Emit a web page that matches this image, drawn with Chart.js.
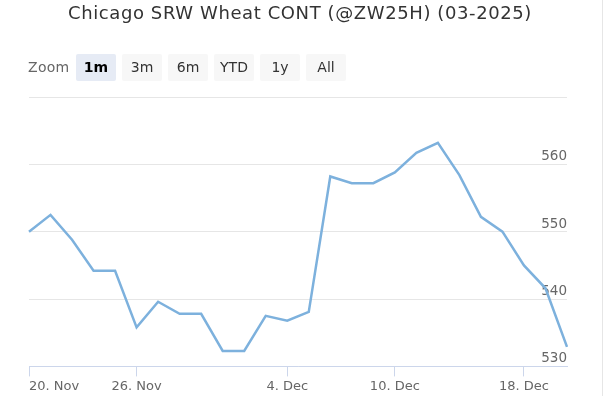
<!DOCTYPE html>
<html>
<head>
<meta charset="utf-8">
<script src="https://cdn.jsdelivr.net/npm/chart.js@4.4.1/dist/chart.umd.min.js"></script>
<style>
  html, body { margin: 0; padding: 0; background: #fff; }
  body { width: 615px; height: 396px; position: relative; overflow: hidden; font-family: "DejaVu Sans", sans-serif; }
  #title { position: absolute; left: 0; top: 2px; width: 600px; text-align: center; font-size: 18px; letter-spacing: 0.6px; color: #333; }
  #zoom { position: absolute; left: 28px; top: 54px; height: 27px; }
  #zoom span.lbl { position: absolute; left: 0; top: 5px; font-size: 14px; letter-spacing: 0.3px; color: #666; }
  #zoom .btn { position: absolute; top: 0; width: 40px; height: 27px; line-height: 27px; text-align: center; font-size: 14px; color: #333; background: #f7f7f7; border-radius: 2px; }
  #zoom .btn.sel { background: #e6ebf5; font-weight: bold; color: #000; }
  #edge { position: absolute; left: 602px; top: 0; width: 1px; height: 396px; background: #e6e6e6; }
  #wrap { position: absolute; left: 0; top: 0; width: 615px; height: 396px; }
</style>
</head>
<body>
<div id="wrap"><canvas id="chart"></canvas></div>
<div id="title">Chicago SRW Wheat CONT (@ZW25H) (03-2025)</div>
<div id="zoom"></div>
<div id="edge"></div>
<script>
const dates = ['20. Nov', '21. Nov', '22. Nov', '24. Nov', '25. Nov', '26. Nov', '27. Nov', '28. Nov', '29. Nov',
  '1. Dec', '2. Dec', '3. Dec', '4. Dec', '5. Dec', '6. Dec', '8. Dec', '9. Dec', '10. Dec',
  '11. Dec', '12. Dec', '13. Dec', '16. Dec', '17. Dec', '18. Dec', '19. Dec', '20. Dec'];
const prices = [550.0, 552.5, 548.8, 544.2, 544.2, 535.8, 539.6, 537.8, 537.8, 532.3, 532.3, 537.5, 536.8,
  538.1, 558.2, 557.2, 557.2, 558.8, 561.7, 563.2, 558.4, 552.2, 550.0, 545.0, 541.6, 532.9];
const tickDates = ['20. Nov', '26. Nov', '4. Dec', '10. Dec', '18. Dec'];
const yTicks = [530, 540, 550, 560];
const zoomButtons = ['1m', '3m', '6m', 'YTD', '1y', 'All'];

// range selector buttons (plain html)
const zoomDiv = document.getElementById('zoom');
zoomDiv.innerHTML = '<span class="lbl">Zoom</span>';
zoomButtons.forEach(function (b, i) {
  const el = document.createElement('div');
  el.className = 'btn' + (i === 0 ? ' sel' : '');
  el.style.left = (48 + i * 46) + 'px';
  el.textContent = b;
  zoomDiv.appendChild(el);
});

const ctx = document.getElementById('chart').getContext('2d');
new Chart(ctx, {
  type: 'line',
  data: {
    labels: dates,
    datasets: [{
      data: prices,
      borderColor: '#7db1dd',
      borderWidth: 2.5,
      pointRadius: 0,
      tension: 0,
      fill: false
    }]
  },
  options: {
    responsive: true,
    maintainAspectRatio: false,
    animation: false,
    layout: { padding: { left: 29, top: 97, right: 48, bottom: 0 } },
    plugins: { legend: { display: false }, tooltip: { enabled: false } },
    scales: {
      x: {
        type: 'category',
        grid: {
          drawOnChartArea: false,
          drawTicks: true,
          tickLength: 10,
          tickColor: function (c) {
            return tickDates.includes(dates[c.index]) ? '#ccd6eb' : 'rgba(0,0,0,0)';
          }
        },
        border: { color: '#ccd6eb' },
        ticks: {
          autoSkip: false,
          maxRotation: 0,
          align: 'inner',
          padding: 2,
          color: '#666',
          font: { family: 'DejaVu Sans', size: 13 },
          callback: function (v, i) {
            return tickDates.includes(dates[i]) ? dates[i] : '';
          }
        }
      },
      y: {
        position: 'right',
        min: 530,
        max: 570,
        grid: { color: '#e6e6e6', drawTicks: false },
        border: { display: false },
        ticks: {
          stepSize: 10,
          mirror: true,
          padding: 0,
          labelOffset: -7.5,
          color: '#666',
          font: { family: 'DejaVu Sans', size: 13.5 },
          callback: function (v) {
            return yTicks.includes(v) ? v : '';
          }
        }
      }
    }
  }
});
</script>
</body>
</html>
